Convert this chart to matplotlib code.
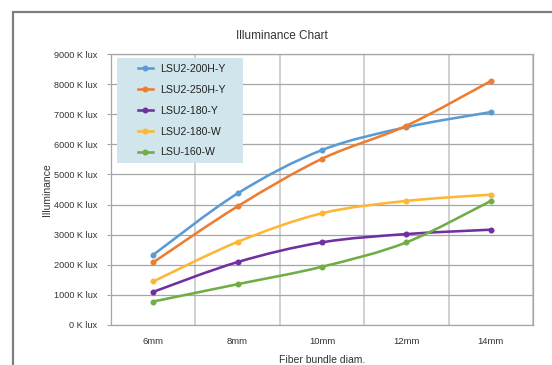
import numpy as np
import matplotlib
matplotlib.use("Agg")
import matplotlib.pyplot as plt
from matplotlib.path import Path
from matplotlib.patches import PathPatch, Rectangle
from matplotlib.lines import Line2D
from matplotlib.ticker import FuncFormatter, MultipleLocator

# data (K lux)
sizes = ["6mm", "8mm", "10mm", "12mm", "14mm"]
lsu2_200h_y = [2330, 4370, 5810, 6570, 7070]
lsu2_250h_y = [2080, 3940, 5520, 6620, 8100]
lsu2_180_y = [1100, 2090, 2745, 3020, 3165]
lsu2_180_w = [1445, 2760, 3710, 4120, 4330]
lsu_160_w = [780, 1355, 1935, 2745, 4120]

names = ["LSU2-200H-Y", "LSU2-250H-Y", "LSU2-180-Y", "LSU2-180-W", "LSU-160-W"]
series = [lsu2_200h_y, lsu2_250h_y, lsu2_180_y, lsu2_180_w, lsu_160_w]
colors = ["#5B9BD5", "#ED7D31", "#7030A0", "#FDB735", "#70AD47"]

FONT = "Liberation Sans"


# smooth line like the spreadsheet "smoothed line" option (Bezier through the points)
def smooth_path(xs, ys):
    pts = np.column_stack([xs, ys]).astype(float)
    n = len(pts)
    verts = [pts[0]]
    codes = [Path.MOVETO]
    for i in range(n - 1):
        p0 = pts[i - 1] if i > 0 else pts[i]
        p1 = pts[i]
        p2 = pts[i + 1]
        p3 = pts[i + 2] if i + 2 < n else pts[i + 1]
        c1 = p1 + (p2 - p0) / 6.0
        c2 = p2 - (p3 - p1) / 6.0
        verts += [c1, c2, p2]
        codes += [Path.CURVE4] * 3
    return Path(verts, codes)


fig = plt.figure(figsize=(5.52, 3.65), dpi=100)
ax = fig.add_axes([111 / 552, 40 / 365, 422 / 552, 271 / 365])

x = np.arange(len(sizes))
handles = []
for name, vals, col in zip(names, series, colors):
    patch = PathPatch(smooth_path(x, vals), facecolor="none", edgecolor=col,
                      lw=1.85, capstyle="round", joinstyle="round", zorder=4)
    ax.add_patch(patch)
    ax.plot(x, vals, color=col, marker="o", markersize=3.3,
            linestyle="none", zorder=5)
    handles.append(Line2D([], [], color=col, lw=1.85, marker="o", markersize=3.3, label=name))

ax.set_xlim(-0.5, len(sizes) - 0.5)
ax.set_ylim(0, 9000)
ax.set_xticks(x)
ax.set_xticklabels(sizes)
ax.xaxis.set_minor_locator(MultipleLocator(1, offset=0.5))
ax.yaxis.set_major_locator(MultipleLocator(1000))
ax.yaxis.set_major_formatter(FuncFormatter(lambda v, p: f"{int(v)} K lux"))

ax.grid(True, axis="y", which="major", color="#a6a6a6", lw=0.9)
ax.grid(True, axis="x", which="minor", color="#c4c4c4", lw=1.1)
ax.set_axisbelow(True)
for sp in ax.spines.values():
    sp.set_color("#a6a6a6")
    sp.set_linewidth(0.9)

ax.tick_params(axis="x", which="both", length=0, pad=9, labelsize=6.8, labelcolor="#333333")
ax.tick_params(axis="y", length=3, color="#a6a6a6", pad=7, labelsize=6.6, labelcolor="#333333")
for lab in ax.get_xticklabels() + ax.get_yticklabels():
    lab.set_fontfamily(FONT)

ax.set_xlabel("Fiber bundle diam.", fontsize=7.5, family=FONT, color="#333333", labelpad=6)
ax.set_ylabel("Illuminance", fontsize=7.5, family=FONT, color="#333333", labelpad=1)

fig.text(282 / 552, 1 - 36 / 365, "Illuminance Chart", ha="center", va="center",
         fontsize=8.5, family=FONT, color="#333333")

# legend background box
ax.add_patch(Rectangle((6 / 422, 162 / 271), 126 / 422, 105 / 271, transform=ax.transAxes,
                       facecolor="#D0E6EC", edgecolor="none", zorder=3))
leg = ax.legend(handles=handles, loc="upper left", bbox_to_anchor=(27 / 422, 261 / 271),
                frameon=False, borderpad=0, borderaxespad=0, handlelength=1.4,
                handletextpad=0.7, labelspacing=1.03,
                prop={"family": FONT, "size": 7.6})
leg.set_zorder(6)
for t in leg.get_texts():
    t.set_color("#222222")

# outer chart border (cut off on right and bottom)
fig.patches.append(Rectangle((13 / 552, -0.2), 1.2, 1.2 - 12 / 365,
                             transform=fig.transFigure, fill=False,
                             edgecolor="#7f7f7f", lw=1.6))

fig.savefig("out.png", dpi=100)
